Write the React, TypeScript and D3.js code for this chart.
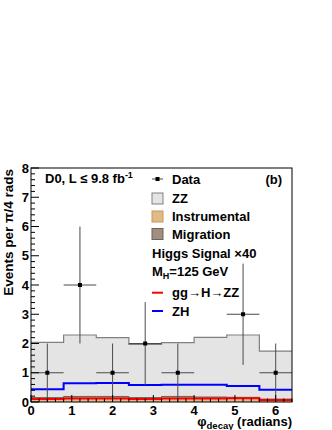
import React from 'react';
import * as d3 from 'd3';

// phi_decay bins (radians) and per-bin contents
const binEdges = [0, 0.8, 1.6, 2.4, 3.2, 4.0, 4.8, 5.6, 6.4];
const dataCounts = [1, 4, 1, 2, 1, 0, 3, 1];
const instrumental = [0.10, 0.14, 0.14, 0.12, 0.15, 0.14, 0.14, 0.07];
const migration = [0.05, 0.05, 0.05, 0.03, 0.04, 0.03, 0.02, 0.03];
const zz = [1.89, 2.10, 2.01, 1.82, 1.84, 2.04, 2.13, 1.64];
const ggH = [0.10, 0.12, 0.12, 0.10, 0.12, 0.12, 0.13, 0.07];
const zh = [0.44, 0.64, 0.65, 0.58, 0.59, 0.59, 0.55, 0.42];

const xTicks = [0, 1, 2, 3, 4, 5, 6];
const yTicks = [0, 1, 2, 3, 4, 5, 6, 7, 8];

const W = 332;
const H = 430;
const margin = { left: 31, right: 40, top: 168, bottom: 28 };
const FONT = '"Liberation Sans", Arial, Helvetica, sans-serif';

const COLORS = {
  zz: '#e4e4e4',
  zzLine: '#808080',
  instr: '#e0bb86',
  instrLine: '#c8965a',
  migr: '#9e8f80',
  migrLine: '#6e6258',
  ggH: '#ff0000',
  zh: '#0000ff',
  data: '#000000',
  err: '#4a4a4a',
};

export default function App() {
  const x = d3.scaleLinear().domain([0, 6.4]).range([margin.left, W - margin.right]);
  const y = d3.scaleLinear().domain([0, 8]).range([H - margin.bottom, margin.top]);

  const rows = binEdges.slice(0, -1).map((lo, i) => ({
    lo,
    hi: binEdges[i + 1],
    instrumental: instrumental[i],
    migration: migration[i],
    zz: zz[i],
  }));

  const stack = d3.stack<any>().keys(['instrumental', 'migration', 'zz'])(rows);

  // step area from a stack layer: repeat last bin value at the right edge
  const stepPts = (layer: any) => {
    const pts = layer.map((d: any) => ({ x: d.data.lo, y0: d[0], y1: d[1] }));
    const last = layer[layer.length - 1];
    pts.push({ x: last.data.hi, y0: last[0], y1: last[1] });
    return pts;
  };

  const area = d3
    .area<any>()
    .curve(d3.curveStepAfter)
    .x((d) => x(d.x))
    .y0(() => y(0))
    .y1((d) => y(d.y1));

  const topLine = d3
    .line<any>()
    .curve(d3.curveStepAfter)
    .x((d) => x(d.x))
    .y((d) => y(d.y1));

  const stepLine = (vals: number[]) => {
    const pts = vals.map((v, i) => [binEdges[i], v] as [number, number]);
    pts.push([binEdges[binEdges.length - 1], vals[vals.length - 1]]);
    return d3
      .line<[number, number]>()
      .curve(d3.curveStepAfter)
      .x((d) => x(d[0]))
      .y((d) => y(d[1]))(pts) as string;
  };

  const fills = [COLORS.instr, COLORS.migr, COLORS.zz];
  const lines = [COLORS.instrLine, COLORS.migrLine, COLORS.zzLine];

  const x0 = margin.left;
  const x1 = W - margin.right;
  const y0 = H - margin.bottom;
  const y1 = margin.top;

  const yMinor = y.ticks(40);
  const xMinor = x.ticks(32);

  // legend
  const lx = 152;
  const tx = 172;
  const boxes = [
    { label: 'ZZ', fill: COLORS.zz, stroke: COLORS.zzLine, yc: 198.5 },
    { label: 'Instrumental', fill: COLORS.instr, stroke: COLORS.instrLine, yc: 216.5 },
    { label: 'Migration', fill: COLORS.migr, stroke: COLORS.migrLine, yc: 234 },
  ];

  return (
    <div style={{ position: 'fixed', left: 0, top: 0 }}>
      <svg width={W} height={H} style={{ display: 'block', background: '#fff' }} fontFamily={FONT} fontWeight="bold">
        {/* stacked backgrounds, drawn top layer first */}
        {stack
          .slice()
          .reverse()
          .map((layer, k) => {
            const idx = stack.length - 1 - k;
            return <path key={'a' + idx} d={area(stepPts(layer)) as string} fill={fills[idx]} stroke="none" />;
          })}
        {stack.map((layer, idx) => (
          <path key={'l' + idx} d={topLine(stepPts(layer)) as string} fill="none" stroke={lines[idx]} strokeWidth={idx === 2 ? 1.2 : 1} />
        ))}

        {/* signal x40 */}
        <path d={stepLine(ggH)} fill="none" stroke={COLORS.ggH} strokeWidth={2} />
        <path d={stepLine(zh)} fill="none" stroke={COLORS.zh} strokeWidth={2} />

        {/* data */}
        {dataCounts.map((n, i) => {
          if (n <= 0) return null;
          const cx = x((binEdges[i] + binEdges[i + 1]) / 2);
          const e = Math.sqrt(n);
          return (
            <g key={'d' + i}>
              <line x1={x(binEdges[i])} x2={x(binEdges[i + 1])} y1={y(n)} y2={y(n)} stroke={COLORS.err} strokeWidth={1} />
              <line x1={cx} x2={cx} y1={y(n - e)} y2={y(n + e)} stroke={COLORS.err} strokeWidth={1} />
              <rect x={cx - 2} y={y(n) - 2} width={4} height={4} fill={COLORS.data} />
            </g>
          );
        })}

        {/* frame */}
        <rect x={x0} y={y1} width={x1 - x0} height={y0 - y1} fill="none" stroke="#000" strokeWidth={1} />

        {/* y ticks */}
        {yMinor.map((t) => {
          const major = Math.abs(t - Math.round(t)) < 1e-6;
          return (
            <line key={'yt' + t} x1={x0} x2={x0 + (major ? 8 : 4)} y1={y(t)} y2={y(t)} stroke="#000" strokeWidth={1} />
          );
        })}
        {yTicks.map((t) => (
          <text key={'yl' + t} x={29} y={y(t) + 4.5} fontSize={13} textAnchor="end" fill="#000">
            {t}
          </text>
        ))}

        {/* x ticks */}
        {xMinor.map((t) => {
          const major = Math.abs(t - Math.round(t)) < 1e-6;
          return (
            <line key={'xt' + t} x1={x(t)} x2={x(t)} y1={y0} y2={y0 - (major ? 7 : 3.5)} stroke="#000" strokeWidth={1} />
          );
        })}
        {xTicks.map((t) => (
          <text key={'xl' + t} x={x(t)} y={414.5} fontSize={13} textAnchor="middle" fill="#000">
            {t}
          </text>
        ))}

        {/* axis titles */}
        <text x={x1} y={426} fontSize={13} textAnchor="end" fill="#000">
          φ<tspan fontSize={9.5} dy={3}>decay</tspan>
          <tspan dy={-3}> (radians)</tspan>
        </text>
        <text transform={`translate(13,${y1 + 1}) rotate(-90)`} fontSize={13.5} textAnchor="end" fill="#000">
          Events per π/4 rads
        </text>

        {/* experiment label */}
        <text x={45} y={183} fontSize={13} fill="#000">
          D0, L ≤ 9.8 fb<tspan fontSize={9} dy={-5}>-1</tspan>
        </text>
        <text x={282} y={183.5} fontSize={13} textAnchor="end" fill="#000">
          (b)
        </text>

        {/* legend */}
        <line x1={lx} x2={lx + 11} y1={179} y2={179} stroke={COLORS.err} strokeWidth={1} />
        <rect x={lx + 3.5} y={177} width={4} height={4} fill="#000" />
        <text x={tx} y={183.5} fontSize={13} fill="#000">Data</text>
        {boxes.map((b) => (
          <g key={b.label}>
            <rect x={lx} y={b.yc - 5.5} width={11} height={11} fill={b.fill} stroke={b.stroke} strokeWidth={1} />
            <text x={tx} y={b.yc + 4.5} fontSize={13} fill="#000">{b.label}</text>
          </g>
        ))}
        <text x={lx} y={257.5} fontSize={13} fill="#000">Higgs Signal ×40</text>
        <text x={lx} y={276} fontSize={13} fill="#000">
          M<tspan fontSize={9} dy={3}>H</tspan>
          <tspan dy={-3}>=125 GeV</tspan>
        </text>
        <line x1={lx} x2={lx + 11} y1={292.7} y2={292.7} stroke={COLORS.ggH} strokeWidth={2} />
        <text x={tx} y={297} fontSize={13} fill="#000">gg→H→ZZ</text>
        <line x1={lx} x2={lx + 11} y1={311} y2={311} stroke={COLORS.zh} strokeWidth={2} />
        <text x={tx} y={315.5} fontSize={13} fill="#000">ZH</text>
      </svg>
    </div>
  );
}
